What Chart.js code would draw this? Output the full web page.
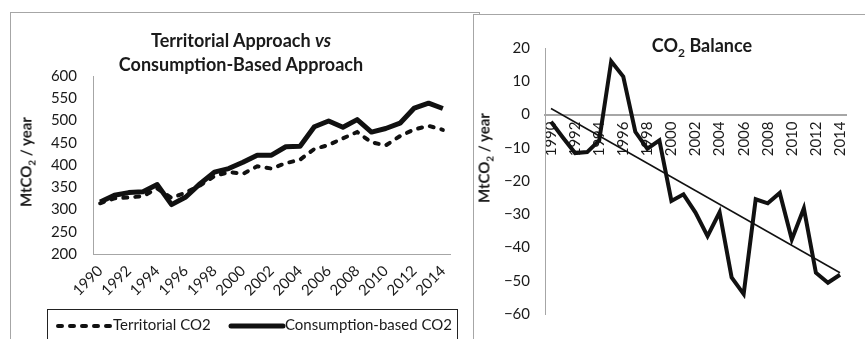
<!DOCTYPE html>
<html>
<head>
<meta charset="utf-8">
<script src="https://cdn.jsdelivr.net/npm/chart.js@4/dist/chart.umd.min.js"></script>
<style>
    body { margin: 0; width: 865px; height: 339px; overflow: hidden; background: #fff; position: relative; font-family: Lato, sans-serif; color: #1a1a1a; }
    .frame { position: absolute; border: 1px solid #a6a6a6; background: #fff; box-sizing: border-box; }
    #leftFrame { left: 10px; top: 12px; width: 470px; height: 350px; }
    #rightFrame { left: 473px; top: 14px; width: 400px; height: 350px; }
    .box { position: absolute; }
    .title { position: absolute; font-weight: bold; font-size: 18px; text-align: center; line-height: 24px; white-space: nowrap; transform: translateX(-50%); }
    .ylab { position: absolute; font-weight: bold; font-size: 15px; white-space: nowrap; transform: translate(-50%, -50%) rotate(-90deg); }
    .legend { position: absolute; left: 47px; top: 309px; width: 411px; height: 40px; border: 1px solid #222; box-sizing: border-box; font-size: 15px; }
    .legend span { position: absolute; top: 5px; }
    .legend svg { position: absolute; top: 13px; }
</style>
</head>
<body>
<div class="frame" id="leftFrame"></div>
<div class="box" style="left:10px;top:12px;width:463px;height:327px;"><canvas id="leftChart"></canvas></div>
<div class="title" style="left:241px;top:28px;">Territorial Approach <i>vs</i><br>Consumption-Based Approach</div>
<div class="ylab" style="left:27px;top:162px;">MtCO<sub style="font-size:10px">2</sub> / year</div>
<div class="legend">
    <svg style="left:7px" width="58" height="6"><line x1="3" y1="3" x2="55" y2="3" stroke="#111" stroke-width="4" stroke-linecap="round" stroke-dasharray="4 8"/></svg>
    <span style="left:65px">Territorial CO2</span>
    <svg style="left:180px" width="58" height="6"><line x1="3" y1="3" x2="55" y2="3" stroke="#111" stroke-width="5" stroke-linecap="round"/></svg>
    <span style="left:237px">Consumption-based CO2</span>
</div>

<div class="frame" id="rightFrame"></div>
<div class="box" style="left:473px;top:14px;width:392px;height:325px;"><canvas id="rightChart"></canvas></div>
<div class="title" style="left:702px;top:33px;">CO<sub style="font-size:12px">2</sub> Balance</div>
<div class="ylab" style="left:485px;top:158px;">MtCO<sub style="font-size:10px">2</sub> / year</div>

<script>
// ---- data ----
const years = ['1990','1991','1992','1993','1994','1995','1996','1997','1998','1999','2000','2001','2002',
               '2003','2004','2005','2006','2007','2008','2009','2010','2011','2012','2013','2014'];

const territorialCO2 = [314, 325, 327, 330, 347, 326, 338, 354, 375, 384, 380, 397, 392,
                        404, 412, 436, 445, 460, 474, 451, 444, 465, 480, 488, 479];

const consumptionCO2 = [317, 332, 338, 340, 356, 311, 328, 358, 384, 392, 406, 422, 422,
                        441, 442, 486, 499, 485, 502, 474, 482, 494, 528, 539, 527];

const co2Balance = [-2.2, -7, -11.6, -11.3, -7.8, 16, 11.4, -5.2, -10.3, -7.8, -26, -24, -29.5,
                    -36.6, -29.4, -49, -54, -25.5, -26.7, -23.6, -37.6, -28.2, -47.6, -50.6, -48.2];

// linear trend, only its two ends are drawn
const balanceTrend = [1.8, null, null, null, null, null, null, null, null, null, null, null, null,
                      null, null, null, null, null, null, null, null, null, null, null, -47.6];

const leftTicks = { min: 200, max: 600, step: 50 };
const rightTicks = { min: -60, max: 20, step: 10 };

const AXIS_GREY = '#a6a6a6';
const INK = '#111';
const TICK_FONT = { family: 'Lato', size: 15 };

Chart.defaults.color = '#1a1a1a';
Chart.defaults.font.family = 'Lato';

function initLeftChart() {
    const ctx = document.getElementById('leftChart');
    new Chart(ctx, {
        type: 'line',
        data: {
            labels: years,
            datasets: [{
                label: 'Territorial CO2',
                data: territorialCO2,
                borderColor: INK,
                borderWidth: 4,
                borderDash: [4, 8],
                borderCapStyle: 'round',
                pointRadius: 0,
                tension: 0
            }, {
                label: 'Consumption-based CO2',
                data: consumptionCO2,
                borderColor: INK,
                borderWidth: 5,
                borderJoinStyle: 'round',
                pointRadius: 0,
                tension: 0
            }]
        },
        options: {
            responsive: true,
            maintainAspectRatio: false,
            animation: false,
            layout: { padding: { top: 64, right: 23, left: 0, bottom: 0 } },
            plugins: { legend: { display: false }, tooltip: { enabled: false } },
            scales: {
                x: {
                    offset: true,
                    grid: { drawOnChartArea: false, drawTicks: false },
                    border: { color: AXIS_GREY, width: 1 },
                    ticks: {
                        autoSkip: false,
                        minRotation: 45,
                        maxRotation: 45,
                        padding: 8,
                        font: TICK_FONT,
                        callback: function(value, index) {
                            return index % 2 === 0 ? years[index] : '';
                        }
                    },
                    afterFit: function(scale) { scale.height = 85; }
                },
                y: {
                    min: leftTicks.min,
                    max: leftTicks.max,
                    grid: { drawOnChartArea: false, drawTicks: false },
                    border: { color: AXIS_GREY, width: 1 },
                    ticks: { stepSize: leftTicks.step, padding: 16, font: TICK_FONT },
                    afterFit: function(scale) { scale.width = 83; }
                }
            }
        }
    });
}

function initRightChart() {
    const ctx = document.getElementById('rightChart');
    new Chart(ctx, {
        type: 'line',
        data: {
            labels: years,
            datasets: [{
                label: 'CO2 Balance',
                data: co2Balance,
                borderColor: INK,
                borderWidth: 4,
                pointRadius: 0,
                tension: 0
            }, {
                label: 'Linear trend',
                data: balanceTrend,
                borderColor: INK,
                borderWidth: 1.5,
                pointRadius: 0,
                spanGaps: true,
                tension: 0
            }]
        },
        options: {
            responsive: true,
            maintainAspectRatio: false,
            animation: false,
            layout: { padding: { top: 34, right: 1, left: 0, bottom: 25 } },
            plugins: { legend: { display: false }, tooltip: { enabled: false } },
            scales: {
                x: {
                    position: { y: 0 },
                    offset: true,
                    grid: { drawOnChartArea: false, drawTicks: false },
                    border: { color: AXIS_GREY, width: 2 },
                    ticks: {
                        autoSkip: false,
                        minRotation: 90,
                        maxRotation: 90,
                        padding: 7,
                        font: TICK_FONT,
                        callback: function(value, index) {
                            return index % 2 === 0 ? years[index] : '';
                        }
                    }
                },
                y: {
                    min: rightTicks.min,
                    max: rightTicks.max,
                    grid: { drawOnChartArea: false, drawTicks: false },
                    border: { color: AXIS_GREY, width: 1 },
                    ticks: {
                        stepSize: rightTicks.step,
                        padding: 15,
                        font: TICK_FONT,
                        callback: function(value) {
                            return value < 0 ? '\u2212' + Math.abs(value) : value;
                        }
                    },
                    afterFit: function(scale) { scale.width = 72; }
                }
            }
        }
    });
}

initLeftChart();
initRightChart();
</script>
</body>
</html>
